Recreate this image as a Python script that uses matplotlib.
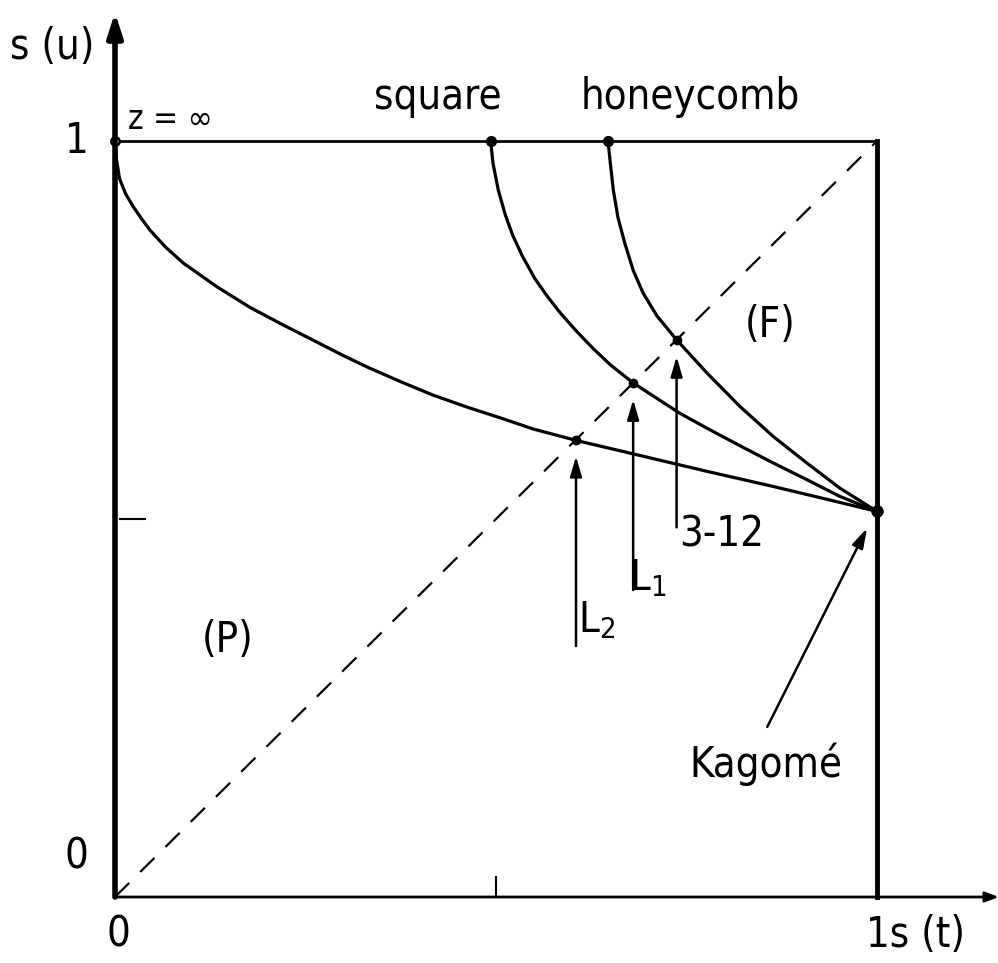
import matplotlib
matplotlib.use("Agg")
import numpy as np
import matplotlib.pyplot as plt

plt.rcParams['font.family'] = ['DejaVu Sans']
plt.rcParams['font.stretch'] = 'condensed'

# critical curves s(u) against s(t)
zinf_x = [0, 0.002, 0.006, 0.014, 0.024, 0.035, 0.046, 0.066, 0.089, 0.134,
          0.177, 0.220, 0.265, 0.300, 0.331, 0.374, 0.417, 0.462, 0.505,
          0.549, 0.605, 0.689, 0.777, 0.864, 0.951, 1.0]
zinf_y = [1, 0.975, 0.950, 0.930, 0.913, 0.897, 0.882, 0.860, 0.839, 0.807,
          0.780, 0.757, 0.734, 0.716, 0.701, 0.682, 0.664, 0.648, 0.634,
          0.619, 0.604, 0.584, 0.563, 0.543, 0.522, 0.51]

square_x = [0.493, 0.496, 0.503, 0.512, 0.522, 0.535, 0.551, 0.567, 0.584,
            0.606, 0.627, 0.650, 0.680, 0.741, 0.777, 0.820, 0.864, 0.908,
            0.951, 1.0]
square_y = [1, 0.971, 0.935, 0.903, 0.875, 0.847, 0.818, 0.795, 0.773,
            0.748, 0.726, 0.704, 0.680, 0.640, 0.620, 0.597, 0.574, 0.552,
            0.530, 0.51]

honey_x = [0.647, 0.650, 0.654, 0.660, 0.669, 0.680, 0.693, 0.711, 0.737,
           0.777, 0.820, 0.864, 0.908, 0.951, 1.0]
honey_y = [1, 0.971, 0.935, 0.899, 0.865, 0.829, 0.799, 0.769, 0.737,
           0.693, 0.649, 0.609, 0.574, 0.541, 0.51]

# special lattices sitting on the diagonal s(u) = s(t)
lattice_names = ["L$_2$", "L$_1$", "3-12"]
lattice_pts = [0.605, 0.680, 0.737]
kagome = (1.0, 0.51)

fig = plt.figure(figsize=(9.98, 9.63), dpi=100)
ax = fig.add_axes([115 / 998, 66 / 963, 762 / 998, 756 / 963])
ax.set_xlim(0, 1)
ax.set_ylim(0, 1)
ax.axis("off")

lw = 2.3
# frame: axes with arrows, top and right borders
ax.annotate("", xy=(0, 1.17), xytext=(0, 0),
            arrowprops=dict(arrowstyle="-|>,head_length=1.4,head_width=0.45",
                            lw=4, color="black", shrinkA=0, shrinkB=0),
            annotation_clip=False)
ax.annotate("", xy=(1.16, 0), xytext=(0, 0),
            arrowprops=dict(arrowstyle="-|>,head_length=0.8,head_width=0.3",
                            lw=2, color="black", shrinkA=0, shrinkB=0),
            annotation_clip=False)
ax.plot([0, 1], [1, 1], color="black", lw=2, clip_on=False)
ax.plot([1, 1], [0, 1], color="black", lw=3.5, clip_on=False)
ax.plot([0.007, 0.04], [0.5, 0.5], color="black", lw=1.5)
ax.plot([0.5, 0.5], [0, 0.027], color="black", lw=1.5)

# diagonal
ax.plot([0, 1], [0, 1], color="black", lw=1.6, ls=(0, (9, 7)))

ax.plot(zinf_x, zinf_y, color="black", lw=lw, clip_on=False)
ax.plot(square_x, square_y, color="black", lw=lw, clip_on=False)
ax.plot(honey_x, honey_y, color="black", lw=lw, clip_on=False)

ax.plot(zinf_x[0], 1, "o", ms=6, color="black", mfc="white", mew=1.8,
        clip_on=False)
ax.plot([square_x[0], honey_x[0]], [1, 1], "o", ms=7, color="black",
        clip_on=False)
ax.plot(lattice_pts, lattice_pts, "o", ms=6, color="black", clip_on=False)
ax.plot(*kagome, "o", ms=8, color="black", clip_on=False)

# arrows to the lattice points
arrow_style = dict(arrowstyle="-|>,head_length=1.2,head_width=0.35",
                   lw=1.8, color="black", shrinkA=0, shrinkB=0)
tails = [0.332, 0.406, 0.489]
for p, y0 in zip(lattice_pts, tails):
    ax.annotate("", xy=(p, p - 0.022), xytext=(p, y0), arrowprops=arrow_style)

fs = 30
ax.text(0.608, 0.366, lattice_names[0], fontsize=fs, ha="left", va="center")
ax.text(0.674, 0.422, lattice_names[1], fontsize=fs, ha="left", va="center")
ax.text(0.741, 0.479, lattice_names[2], fontsize=fs, ha="left", va="center")

ax.annotate("", xy=(0.987, 0.488), xytext=(0.856, 0.225), arrowprops=arrow_style)
ax.text(0.854, 0.175, "Kagomé", fontsize=fs, ha="center", va="center")

# labels
ax.text(-0.138, 1.124, "s (u)", fontsize=fs, ha="left", va="center")
ax.text(-0.05, 1.0, "1", fontsize=fs, ha="center", va="center")
ax.text(-0.05, 0.053, "0", fontsize=fs, ha="center", va="center")
ax.text(0.005, -0.05, "0", fontsize=fs, ha="center", va="center")
ax.text(0.986, -0.05, "1s (t)", fontsize=fs, ha="left", va="center")
ax.text(0.017, 1.028, "z = ∞", fontsize=24, ha="left", va="center")
ax.text(0.423, 1.058, "square", fontsize=fs, ha="center", va="center")
ax.text(0.755, 1.058, "honeycomb", fontsize=fs, ha="center", va="center")
ax.text(0.860, 0.757, "(F)", fontsize=fs, ha="center", va="center")
ax.text(0.148, 0.340, "(P)", fontsize=fs, ha="center", va="center")

fig.savefig("out.png", dpi=100)
